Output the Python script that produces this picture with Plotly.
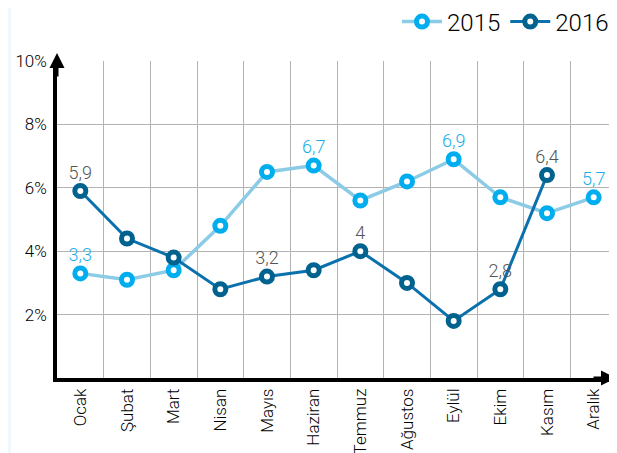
import plotly.graph_objects as go

months = ["Ocak", "Şubat", "Mart", "Nisan", "Mayıs", "Haziran", "Temmuz",
          "Ağustos", "Eylül", "Ekim", "Kasım", "Aralık"]
values_2015 = [3.3, 3.1, 3.4, 4.8, 6.5, 6.7, 5.6, 6.2, 6.9, 5.7, 5.2, 5.7]
values_2016 = [5.9, 4.4, 3.8, 2.8, 3.2, 3.4, 4.0, 3.0, 1.8, 2.8, 6.4, None]
labels_2015 = ["3,3", "", "", "", "", "6,7", "", "", "6,9", "", "", "5,7"]
labels_2016 = ["5,9", "", "", "", "3,2", "", "4", "", "", "2,8", "6,4", ""]
y_ticks = [2, 4, 6, 8, 10]
y_tick_text = ["2%", "4%", "6%", "8%", "10%"]

FONT = "Roboto, sans-serif"

# the page has an 8px body margin, so the figure is sized/offset to suit
W, H = 609, 445
L, R, T, B = 49, 0, 53, 75
PW, PH = W - L - R, H - T - B

fig = go.Figure()

fig.add_trace(go.Scatter(
    x=months, y=values_2015, name="2015",
    mode="lines+markers+text", text=labels_2015, textposition="top center",
    textfont=dict(color="#1aaee8", size=18, family=FONT, weight=300),
    line=dict(color="#8ccbe6", width=3.5),
    marker=dict(size=11, color="white", line=dict(color="#00aeef", width=5)),
    cliponaxis=False,
))
fig.add_trace(go.Scatter(
    x=months, y=values_2016, name="2016",
    mode="lines+markers+text", text=labels_2016, textposition="top center",
    textfont=dict(color="#555", size=18, family=FONT, weight=300),
    line=dict(color="#0b71ac", width=3),
    marker=dict(size=11, color="white", line=dict(color="#00628e", width=5)),
    cliponaxis=False,
))

# light strip on the far left
fig.add_shape(type="rect", xref="paper", yref="paper",
              x0=-L / PW, x1=(-L + 3) / PW, y0=-B / PH, y1=1 + T / PH,
              fillcolor="#eef8fd", line=dict(width=0), layer="below")

# axis arrows
fig.add_annotation(xref="paper", yref="paper", x=0, y=1 + 8 / PH,
                   ax=0, ay=25, text="", showarrow=True,
                   arrowhead=2, arrowsize=1, arrowwidth=3, arrowcolor="black")
fig.add_annotation(xref="paper", yref="paper", x=1, y=0,
                   ax=-25, ay=0, text="", showarrow=True,
                   arrowhead=2, arrowsize=1, arrowwidth=3, arrowcolor="black")

fig.update_layout(
    width=W, height=H,
    margin=dict(l=L, r=R, t=T, b=B, autoexpand=False),
    paper_bgcolor="white", plot_bgcolor="white",
    font=dict(family=FONT, color="#000"),
    showlegend=True,
    legend=dict(orientation="h", xref="container", x=1 - 3 / W, xanchor="right",
                yref="container", y=1 - 14 / H, yanchor="middle",
                font=dict(size=24, color="#000", family=FONT, weight=300),
                itemwidth=40, traceorder="normal"),
    xaxis=dict(
        type="category", range=[-0.5, 11.5],
        tickson="boundaries", ticks="", showgrid=True,
        gridcolor="#b3b3b3", gridwidth=1,
        showline=True, linecolor="black", linewidth=3.5,
        tickangle=-90, automargin=False,
        tickfont=dict(size=17, color="#000", family=FONT, weight=300),
    ),
    yaxis=dict(
        range=[0, 10], tickvals=y_ticks, ticktext=y_tick_text,
        showgrid=True, gridcolor="#b3b3b3", gridwidth=1,
        showline=True, linecolor="black", linewidth=3.5,
        zeroline=False, ticks="", automargin=False, ticklabelstandoff=3,
        tickfont=dict(size=17, color="#000", family=FONT, weight=300),
    ),
)

fig.write_html("out.html")
